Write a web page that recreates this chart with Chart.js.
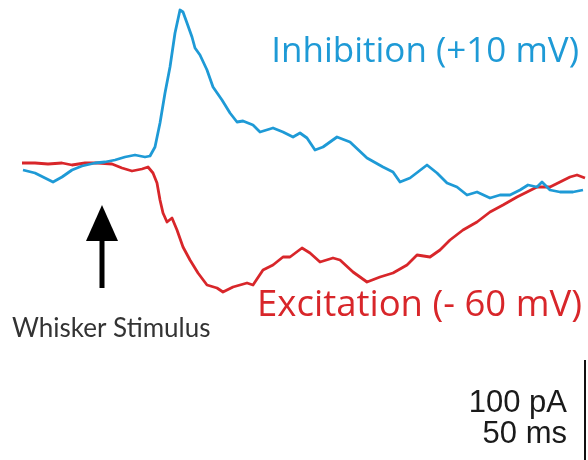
<!DOCTYPE html>
<html>
<head>
<meta charset="utf-8">
<script src="https://cdn.jsdelivr.net/npm/chart.js@4.4.1/dist/chart.umd.min.js"></script>
<style>
  html, body { margin: 0; padding: 0; background: #fff; }
  #wrap { width: 588px; height: 460px; }
</style>
</head>
<body>
<div id="wrap"><canvas id="trace" width="588" height="460"></canvas></div>
<script>
// time in ms, current in pA (0 = holding baseline)
var inhTime = [0.5, 6.5, 11.5, 15.5, 20, 25, 30, 36.5, 41.5, 46.5, 51.5, 56.5, 61.5, 64, 66.5, 69, 71.5, 74, 76.5, 79, 80.5, 82.5, 85, 86.5, 89, 92.5, 95.5, 100, 104, 107.5, 110.5, 115.5, 119, 125.5, 130.5, 135.5, 139, 142.5, 146.5, 150.5, 157.5, 164, 172.5, 180.5, 185.5, 189, 194, 202.5, 207.5, 212.5, 217.5, 222.5, 227.5, 234, 239, 244, 249, 253, 257.5, 260, 264, 269, 275.5, 280.5];
var inhCurrent = [-7, -10, -15, -19, -14, -7, -3, 0, 1, 3, 6, 8, 6, 7, 16, 40, 70, 96, 130, 153, 151, 140, 126, 115, 108, 93, 76, 63, 50, 41, 42, 38, 31, 35, 31, 26, 30, 25, 13, 16, 26, 21, 5, -4, -9, -19, -15, -2, -10, -20, -24, -32, -29, -35, -32, -32, -27, -22, -24, -19, -27, -29, -29, -27];

var excTime = [0, 6.5, 13, 20, 25, 31.5, 38, 45, 50, 55, 60, 63, 65.5, 67.5, 69, 70.5, 72.5, 75, 77.5, 80.5, 84, 88, 92.5, 97.5, 100.5, 105.5, 112.5, 115.5, 120.5, 125.5, 130.5, 134, 140, 144, 149, 155.5, 159, 165.5, 172.5, 179, 185.5, 192.5, 197.5, 204, 209, 214, 220.5, 227.5, 234, 240.5, 247.5, 252.5, 257.5, 264, 269, 274, 277.5, 281.5];
var excCurrent = [0, 0, -1, 0, -2, 0, 0, -1, -5, -8, -6, -4, -10, -20, -37, -50, -59, -55, -67, -84, -97, -110, -122, -125, -129, -124, -120, -122, -107, -102, -94, -94, -85, -90, -99, -95, -97, -109, -119, -114, -110, -102, -92, -94, -87, -77, -67, -59, -49, -42, -34, -29, -24, -24, -19, -14, -12, -15];

var seriesLabels = ['Inhibition (+10 mV)', 'Excitation (- 60 mV)'];
var stimulusTime = 40;       // ms, whisker deflection
var scaleBarCurrent = 100;   // pA
var scaleBarLabels = ['100 pA', '50 ms'];

var BLUE = '#1e9ad6';
var RED = '#d8262a';

function toPoints(xs, ys) {
  var out = [];
  for (var i = 0; i < xs.length; i++) out.push({ x: xs[i], y: ys[i] });
  return out;
}

var decorations = {
  id: 'decorations',
  afterDatasetsDraw: function(chart) {
    var ctx = chart.ctx;
    var xs = chart.scales.x, ys = chart.scales.y;
    ctx.save();

    // trace labels
    ctx.textBaseline = 'alphabetic';
    ctx.textAlign = 'right';
    ctx.font = '35px "Open Sans"';
    ctx.fillStyle = BLUE;
    ctx.fillText(seriesLabels[0], 579, 62);
    ctx.font = '36.5px "Open Sans"';
    ctx.fillStyle = RED;
    ctx.fillText(seriesLabels[1], 582, 316);

    // stimulus arrow
    var ax = xs.getPixelForValue(stimulusTime);
    ctx.fillStyle = '#000';
    ctx.beginPath();
    ctx.moveTo(ax, 205);
    ctx.lineTo(ax + 16, 241);
    ctx.lineTo(ax - 16, 241);
    ctx.closePath();
    ctx.fill();
    ctx.fillRect(ax - 2.5, 238, 5, 50);

    ctx.textAlign = 'left';
    ctx.font = '26px Lato';
    ctx.fillStyle = '#333';
    ctx.fillText('Whisker Stimulus', 12, 337);

    // scale bar
    var barLen = ys.getPixelForValue(0) - ys.getPixelForValue(scaleBarCurrent);
    var bx = chart.chartArea.right - 3;
    var bBottom = chart.chartArea.bottom;
    ctx.strokeStyle = '#111';
    ctx.lineWidth = 2;
    ctx.beginPath();
    ctx.moveTo(bx, bBottom - barLen);
    ctx.lineTo(bx, bBottom);
    ctx.stroke();

    ctx.textAlign = 'right';
    ctx.font = '31px "Liberation Sans"';
    ctx.fillStyle = '#1a1a1a';
    ctx.fillText(scaleBarLabels[0], 567, 412);
    ctx.fillText(scaleBarLabels[1], 567, 443);
    ctx.restore();
  }
};

new Chart(document.getElementById('trace'), {
  type: 'line',
  data: {
    datasets: [
      {
        label: seriesLabels[0],
        data: toPoints(inhTime, inhCurrent),
        borderColor: BLUE,
        borderWidth: 2.8,
        borderJoinStyle: 'round',
        pointRadius: 0,
        tension: 0
      },
      {
        label: seriesLabels[1],
        data: toPoints(excTime, excCurrent),
        borderColor: RED,
        borderWidth: 2.8,
        borderJoinStyle: 'round',
        pointRadius: 0,
        tension: 0
      }
    ]
  },
  options: {
    responsive: false,
    animation: false,
    layout: { padding: 0 },
    plugins: { legend: { display: false }, tooltip: { enabled: false } },
    scales: {
      x: { type: 'linear', min: -11, max: 283, display: false },
      y: { min: -297, max: 163, display: false }
    }
  },
  plugins: [decorations]
});
</script>
</body>
</html>
